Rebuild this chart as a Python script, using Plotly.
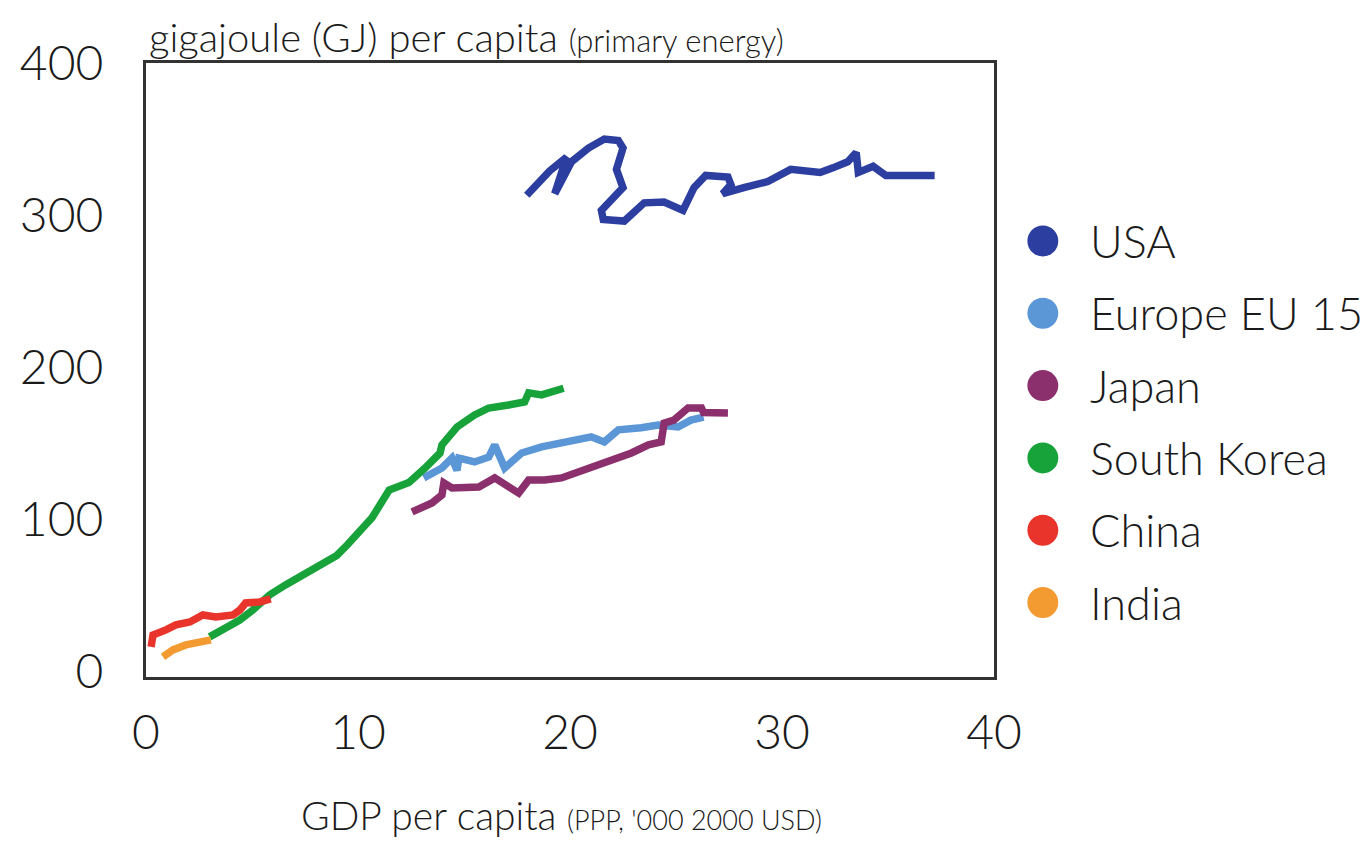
import plotly.graph_objects as go

# ---- data ----
names = ["USA", "Europe EU 15", "Japan", "South Korea", "China", "India"]

usa_x = [17.96, 19.04, 19.84, 19.28, 20.07, 20.87, 21.62, 22.28, 22.5, 22.19, 22.5, 21.95, 21.48, 21.57,
         22.56, 23.5, 24.44, 25.33, 25.85, 26.4, 27.45, 27.59, 27.2, 28.2, 29.33, 30.41, 31.8, 32.4,
         33.1, 33.5, 33.6, 34.3, 34.9, 37.2]
usa_y = [313, 329, 338, 314, 335, 344, 350, 349, 344, 330, 318, 310, 303, 297,
         296, 308, 308.5, 303, 318, 326, 325, 320, 314, 318, 322, 330, 328, 331,
         335, 341, 328, 332, 326, 326]

eu_x = [13.1, 13.96, 14.43, 14.67, 14.76, 15.5, 16.17, 16.45, 16.92, 17.72, 18.66, 19.93, 21.0,
        21.62, 22.28, 23.36, 24.16, 25.1, 25.7, 26.3]
eu_y = [127, 133.5, 140, 132, 140, 137.5, 140.8, 148.7, 133.5, 143.4, 147.4, 150.7, 154,
        150.7, 158.6, 160, 161.8, 160.5, 165, 167]

japan_x = [12.55, 13.49, 13.96, 14.05, 14.43, 15.7, 16.45, 17.1, 17.58, 18.05, 18.8, 19.6, 20.2,
           21.15, 22.1, 22.9, 23.7, 24.3, 24.44, 24.9, 25.57, 26.2, 26.3, 27.45]
japan_y = [104.6, 110.5, 115.8, 123.7, 120.4, 121, 127, 121, 117, 125.7, 125.7, 127, 130,
           134, 138.8, 143.4, 148.7, 150.7, 163, 165, 173, 173, 170, 169.7]

korea_x = [3.0, 3.62, 4.42, 5.03, 5.83, 6.58, 7.24, 7.85, 8.5, 9.0, 9.5, 10.0, 10.67, 11.47, 12.4,
           13.16, 13.87, 13.96, 14.67, 15.5, 16.17, 17.1, 17.86, 18.05, 18.66, 19.7]
korea_y = [22.4, 27, 33.5, 40, 50, 56.6, 62, 66.4, 71, 76, 83, 90, 101, 119, 124,
           133.5, 143.4, 148.7, 160.5, 168.4, 173, 175, 177, 183, 181.6, 186]

china_x = [0.24, 0.33, 0.94, 1.41, 2.07, 2.68, 3.3, 4.1, 4.42, 4.7, 5.36, 5.88]
china_y = [15.8, 23.7, 27, 30.3, 32.2, 36.8, 35.5, 36.8, 40, 44.7, 45.4, 47.4]

india_x = [0.8, 1.27, 1.88, 2.54, 3.06]
india_y = [9.2, 13.8, 17.1, 18.4, 20.4]

x_ticks = [0, 10, 20, 30, 40]
y_ticks = [0, 100, 200, 300, 400]

series = [(usa_x, usa_y), (eu_x, eu_y), (japan_x, japan_y),
          (korea_x, korea_y), (china_x, china_y), (india_x, india_y)]

# ---- style ----
colors = ["#2c3e9f", "#5b97d7", "#8b2f6d", "#17a33a", "#e8342b", "#f39a31"]
FONT = "Lato, 'Open Sans', sans-serif"
TXT = "#1a1a1a"

fig = go.Figure()
for name, (xs, ys), c in zip(names, series, colors):
    fig.add_trace(go.Scatter(x=xs, y=ys, mode="lines", name=name,
                             line=dict(color=c, width=7.5), showlegend=False))

# the page body adds an 8px offset; target screen box is x 143..994, y 63..677
OFF = 8
FIG_W, FIG_H = 1370 - OFF, 842 - OFF
BX0, BX1, BY0, BY1 = 143, 994, 63, 677
W, H = BX1 - BX0, BY1 - BY0
L, T = BX0 - OFF, BY0 - OFF
R, B = FIG_W - L - W, FIG_H - T - H


def px(x):
    return (x - BX0) / W


def py(y):
    return (BY1 - y) / H


shapes = []
annotations = []
for i, (name, c) in enumerate(zip(names, colors)):
    cy = 241 + i * 72.3
    cx = 1043
    r = 15.5
    shapes.append(dict(type="circle", xref="paper", yref="paper",
                       x0=px(cx - r), x1=px(cx + r),
                       y0=py(cy + r), y1=py(cy - r),
                       fillcolor=c, line=dict(width=0)))
    annotations.append(dict(text=name, xref="paper", yref="paper",
                            x=px(1088), y=py(cy),
                            xanchor="left", yanchor="middle", showarrow=False,
                            font=dict(size=45, color=TXT, family=FONT, weight=300)))

annotations.append(dict(
    text="gigajoule (GJ) per capita <span style='font-size:31px'>(primary energy)</span>",
    xref="paper", yref="paper", x=px(144), y=py(37),
    xanchor="left", yanchor="middle", showarrow=False,
    font=dict(size=40, color=TXT, family=FONT, weight=300)))
annotations.append(dict(
    text="GDP per capita <span style='font-size:27px'>(PPP, '000 2000 USD)</span>",
    xref="paper", yref="paper", x=px(560), y=py(815),
    xanchor="center", yanchor="middle", showarrow=False, borderpad=0,
    font=dict(size=39, color=TXT, family=FONT, weight=300)))

fig.update_layout(
    width=FIG_W, height=FIG_H,
    margin=dict(l=L, r=R, t=T, b=B),
    paper_bgcolor="white", plot_bgcolor="white",
    showlegend=False,
    shapes=shapes, annotations=annotations,
    font=dict(family=FONT, color=TXT),
    xaxis=dict(range=[0, 40], tickvals=x_ticks, ticktext=[str(v) for v in x_ticks],
               showgrid=False, zeroline=False, showline=True, mirror=True,
               linecolor="#333", linewidth=3, ticks="",
               tickfont=dict(size=48, color=TXT, family=FONT, weight=300),
               ticklabelstandoff=11),
    yaxis=dict(range=[-4, 400], tickvals=y_ticks, ticktext=[str(v) for v in y_ticks],
               showgrid=False, zeroline=False, showline=True, mirror=True,
               linecolor="#333", linewidth=3, ticks="",
               tickfont=dict(size=48, color=TXT, family=FONT, weight=300),
               ticklabelstandoff=30),
)

fig.write_html("out.html")
